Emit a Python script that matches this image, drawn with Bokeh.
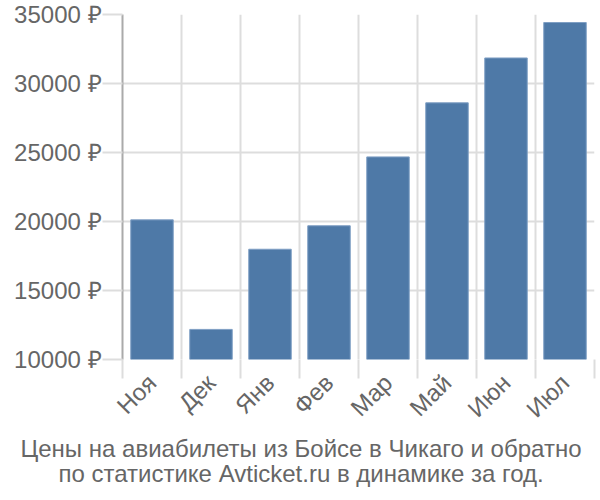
import math
from bokeh.plotting import figure
from bokeh.models import Range1d, FixedTicker, Title, ColumnDataSource
from bokeh.embed import file_html
from bokeh.resources import INLINE

months = ["Ноя", "Дек", "Янв", "Фев", "Мар", "Май", "Июн", "Июл"]
prices = [20120, 12180, 17990, 19690, 24680, 28600, 31850, 34420]
y_ticks = [10000, 15000, 20000, 25000, 30000, 35000]
title_lines = ["Цены на авиабилеты из Бойсе в Чикаго и обратно",
               "по статистике Avticket.ru в динамике за год."]

n = len(months)
centers = [i + 0.5 for i in range(n)]
src = ColumnDataSource(dict(x=centers, top=prices))

p = figure(width=600, height=500, output_backend="svg", toolbar_location=None,
           x_range=Range1d(0, n), y_range=Range1d(10000, 35000),
           min_border_left=122, min_border_right=6, min_border_top=14,
           min_border_bottom=141)
p.outline_line_color = None
p.background_fill_color = "white"
p.border_fill_color = "white"

p.vbar(x="x", top="top", bottom=10000, width=0.72, source=src,
       fill_color="#4e79a7", line_color="#7f9fc4", line_width=1)

FONT = "Liberation Sans"

# x axis
p.xaxis.ticker = FixedTicker(ticks=centers, minor_ticks=list(range(n + 1)))
p.xaxis.major_label_overrides = {c: m for c, m in zip(centers, months)}
p.xaxis.major_label_orientation = math.pi / 4
p.xaxis.major_tick_line_color = None
p.xaxis.minor_tick_out = 19
p.xaxis.minor_tick_in = 0
p.xaxis.minor_tick_line_color = "#dddddd"
p.xaxis.minor_tick_line_width = 2
p.xaxis.axis_line_color = None
p.xaxis.major_label_text_font = FONT
p.xaxis.major_label_text_font_size = "24px"
p.xaxis.major_label_text_color = "#666666"
p.xaxis.major_label_standoff = 0

# y axis
p.yaxis.ticker = FixedTicker(ticks=y_ticks)
p.yaxis.major_label_overrides = {t: f"{t} ₽" for t in y_ticks}
p.yaxis.major_tick_out = 20
p.yaxis.major_tick_in = 0
p.yaxis.major_tick_line_color = "#dddddd"
p.yaxis.major_tick_line_width = 2
p.yaxis.minor_tick_line_color = None
p.yaxis.axis_line_color = "#aaaaaa"
p.yaxis.axis_line_width = 2
p.yaxis.major_label_text_font = FONT
p.yaxis.major_label_text_font_size = "24px"
p.yaxis.major_label_text_color = "#666666"
p.yaxis.major_label_standoff = 1

# grids
p.xgrid.ticker = FixedTicker(ticks=list(range(n + 1)))
p.xgrid.grid_line_color = "#dddddd"
p.xgrid.grid_line_width = 2
p.ygrid.grid_line_color = "#dddddd"
p.ygrid.grid_line_width = 2

offsets = [-102, -64]
standoffs = [-5, -3]
for line, off, so in zip(title_lines, offsets, standoffs):
    t = Title(text=line, align="left", offset=off, text_font=FONT,
              text_font_size="24px", text_font_style="normal",
              text_color="#666666", standoff=so)
    p.add_layout(t, "below")

open("out.html", "w").write(file_html(p, INLINE))
